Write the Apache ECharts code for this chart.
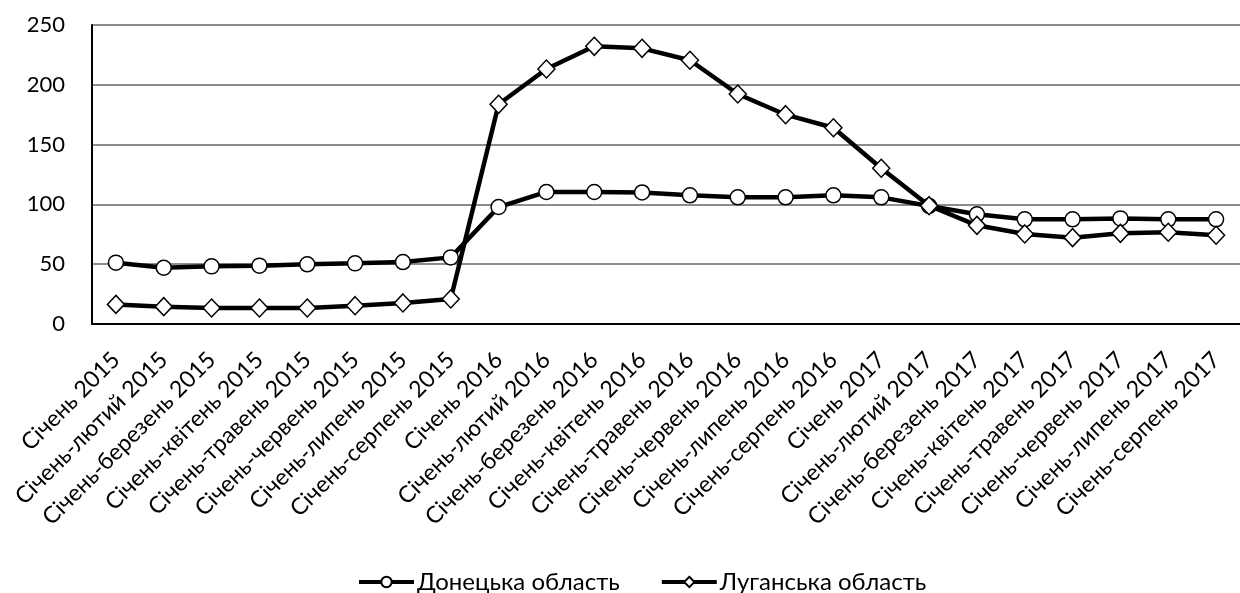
<!DOCTYPE html>
<html>
<head>
<meta charset="utf-8">
<script src="https://cdn.jsdelivr.net/npm/echarts@6/dist/echarts.min.js"></script>
<style>
  html, body { margin: 0; padding: 0; background: #fff; }
  #chart { width: 1240px; height: 593px; }
</style>
</head>
<body>
<div id="chart"></div>
<script>
  var categories = [
    'Січень 2015', 'Січень-лютий 2015', 'Січень-березень 2015', 'Січень-квітень 2015',
    'Січень-травень 2015', 'Січень-червень 2015', 'Січень-липень 2015', 'Січень-серпень 2015',
    'Січень 2016', 'Січень-лютий 2016', 'Січень-березень 2016', 'Січень-квітень 2016',
    'Січень-травень 2016', 'Січень-червень 2016', 'Січень-липень 2016', 'Січень-серпень 2016',
    'Січень 2017', 'Січень-лютий 2017', 'Січень-березень 2017', 'Січень-квітень 2017',
    'Січень-травень 2017', 'Січень-червень 2017', 'Січень-липень 2017', 'Січень-серпень 2017'
  ];
  var donetsk = [51.3, 47, 48.2, 48.8, 49.9, 50.7, 51.8, 55.7,
    97.8, 110.4, 110.4, 110, 107.6, 105.9, 105.9, 107.6,
    105.9, 98.7, 91.7, 87.5, 87.5, 88.3, 87.5, 87.5];
  var luhansk = [16.4, 14.5, 13.4, 13.4, 13.4, 15.3, 17.6, 20.9,
    183.7, 213.2, 232.2, 230.5, 220.5, 192.3, 175, 164.1,
    130.2, 98.9, 82.5, 75.3, 72.2, 75.8, 76.7, 74.2];
  var seriesNames = ['Донецька область', 'Луганська область'];

  var font = 'Lato, "Open Sans", sans-serif';
  var chart = echarts.init(document.getElementById('chart'));

  var option = {
    animation: false,
    textStyle: { fontFamily: font, color: '#000' },
    grid: { left: 92, right: -6, top: 25, bottom: 269, containLabel: false },
    legend: {
      data: seriesNames,
      top: 565,
      left: 352,
      itemWidth: 55,
      itemHeight: 13,
      itemGap: 40,
      lineStyle: { width: 4 },
      textStyle: { fontFamily: font, fontSize: 24, color: '#000', padding: [0, 0, 0, -2] }
    },
    xAxis: {
      type: 'category',
      data: categories,
      boundaryGap: true,
      axisLine: { lineStyle: { color: '#000', width: 2 } },
      axisTick: { show: false },
      axisLabel: {
        rotate: 45,
        interval: 0,
        fontSize: 23,
        color: '#000',
        fontFamily: font,
        margin: 32
      }
    },
    yAxis: {
      type: 'value',
      min: 0,
      max: 250,
      interval: 50,
      axisLine: { show: true, lineStyle: { color: '#000', width: 2 } },
      axisTick: { show: false },
      splitLine: { lineStyle: { color: '#8c8c8c', width: 2 } },
      axisLabel: { fontSize: 22, color: '#000', fontFamily: font, margin: 27 }
    },
    series: [
      {
        name: seriesNames[0],
        type: 'line',
        data: donetsk,
        symbol: 'circle',
        symbolSize: 15,
        showAllSymbol: true,
        lineStyle: { color: '#000', width: 4.5 },
        itemStyle: { color: '#fff', borderColor: '#000', borderWidth: 1.5 }
      },
      {
        name: seriesNames[1],
        type: 'line',
        data: luhansk,
        symbol: 'diamond',
        symbolSize: [17, 18],
        showAllSymbol: true,
        lineStyle: { color: '#000', width: 4.5 },
        itemStyle: { color: '#fff', borderColor: '#000', borderWidth: 1.5 }
      }
    ]
  };
  chart.setOption(option);
</script>
</body>
</html>
